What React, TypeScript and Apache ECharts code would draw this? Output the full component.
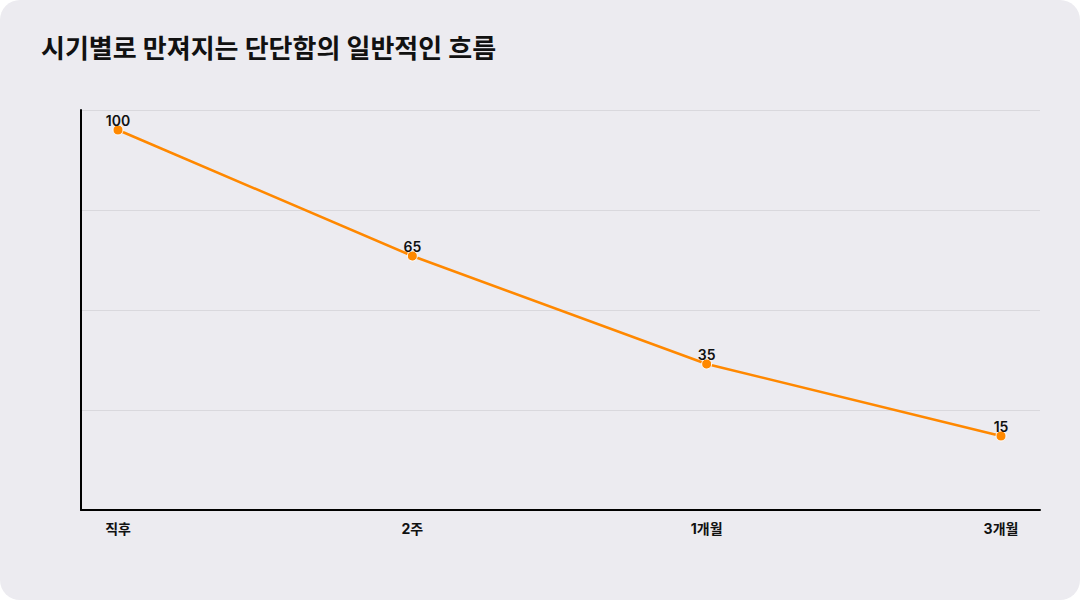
import React, { useEffect, useRef } from "react";
import * as echarts from "echarts";

const title = "시기별로 만져지는 단단함의 일반적인 흐름";
const categories = ["직후", "2주", "1개월", "3개월"];
const values = [100, 65, 35, 15];
const gridTicks = [0, 1, 2, 3, 4];

export default function App() {
  const ref = useRef<HTMLDivElement>(null);
  useEffect(() => {
    if (!ref.current) return;
    const chart = echarts.init(ref.current, undefined, { renderer: "svg" });
    const font = "Inter, 'Noto Sans CJK KR', 'Noto Sans', sans-serif";
    chart.setOption({
      animation: false,
      backgroundColor: "transparent",
      title: {
        text: title,
        left: 36,
        top: 30,
        textStyle: { fontFamily: font, fontSize: 26, fontWeight: 700, color: "#111" },
      },
      grid: [
        { left: 81, right: 40, top: 110, bottom: 90 },
        { left: 118, right: 79, top: 110, bottom: 90 },
      ],
      xAxis: [
        {
          gridIndex: 0,
          type: "value",
          min: 0,
          max: 1,
          axisLine: { show: true, onZero: false, lineStyle: { color: "#000", width: 2 } },
          axisTick: { show: false },
          axisLabel: { show: false },
          splitLine: { show: false },
        },
        {
          gridIndex: 1,
          type: "category",
          data: categories,
          boundaryGap: false,
          axisLine: { show: false },
          axisTick: { show: false },
          axisLabel: {
            margin: 11,
            fontFamily: font,
            fontSize: 14,
            fontWeight: 700,
            color: "#111",
          },
          splitLine: { show: false },
        },
      ],
      yAxis: [
        {
          gridIndex: 0,
          type: "value",
          min: gridTicks[0],
          max: gridTicks[gridTicks.length - 1],
          interval: 1,
          axisLine: { show: true, lineStyle: { color: "#000", width: 2 } },
          axisTick: { show: false },
          axisLabel: { show: false },
          splitLine: { show: true, lineStyle: { color: "#d9d8dd", width: 1 } },
        },
        {
          gridIndex: 1,
          type: "value",
          min: -5.556,
          max: 105.556,
          show: false,
          splitLine: { show: false },
        },
      ],
      series: [
        {
          type: "line",
          xAxisIndex: 1,
          yAxisIndex: 1,
          data: values,
          symbol: "circle",
          symbolSize: 10,
          lineStyle: { color: "#ff8800", width: 2.5 },
          itemStyle: { color: "#ff8800", borderColor: "#ffffff", borderWidth: 1 },
          label: {
            show: true,
            position: "top",
            distance: -3,
            fontFamily: font,
            fontSize: 14,
            fontWeight: 600,
            color: "#111",
          },
        },
      ],
    });
    return () => chart.dispose();
  }, []);
  return (
    <div
      style={{
        position: "fixed",
        left: 0,
        top: 0,
        width: 1080,
        height: 600,
        background: "#fff",
      }}
    >
      <div
        style={{
          width: 1080,
          height: 600,
          background: "#ecebf0",
          borderRadius: 20,
        }}
      >
        <div ref={ref} style={{ width: 1080, height: 600 }} />
      </div>
    </div>
  );
}
